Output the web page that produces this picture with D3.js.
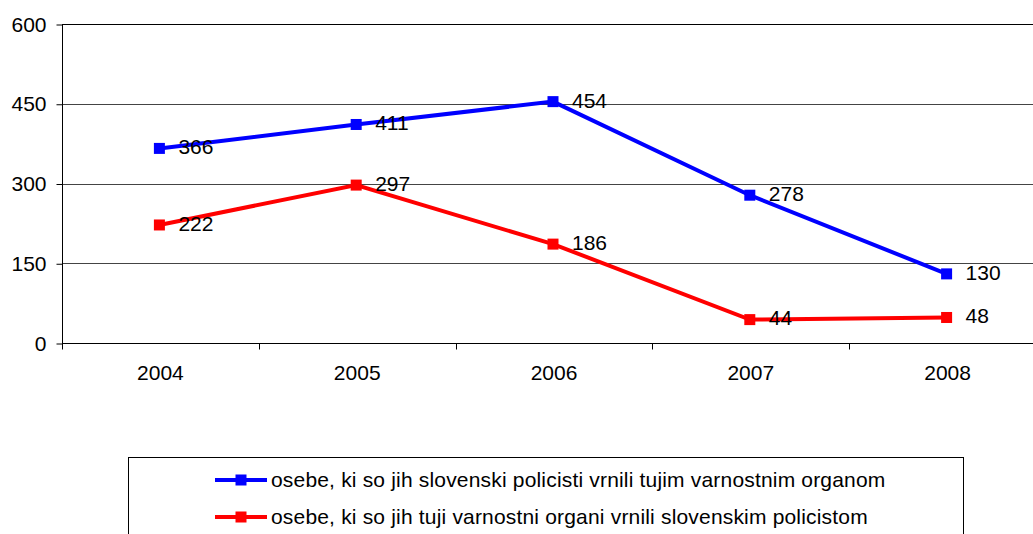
<!DOCTYPE html>
<html>
<head>
<meta charset="utf-8">
<script src="https://cdn.jsdelivr.net/npm/d3@7"></script>
<style>
  body { margin: 0; background: #fff; }
  svg { display: block; font-family: "Liberation Sans", Arial, sans-serif; }
</style>
</head>
<body>
<svg width="1033" height="534"></svg>
<script>
var years = ["2004", "2005", "2006", "2007", "2008"];
var returnedByUs = [366, 411, 454, 278, 130];
var returnedToUs = [222, 297, 186, 44, 48];
var yTicks = [0, 150, 300, 450, 600];
var seriesNames = [
    "osebe, ki so jih slovenski policisti vrnili tujim varnostnim organom",
    "osebe, ki so jih tuji varnostni organi vrnili slovenskim policistom"
];
var seriesColors = ["#0000ff", "#ff0000"];

var svg = d3.select("svg");
var plotLeft = 62, plotRight = 1046, plotTop = 24, plotBottom = 343;
var fontSize = 21;
var markerSize = 11;

var x = d3.scaleBand().domain(years).range([plotLeft, plotRight]);
var y = d3.scaleLinear().domain([0, 600]).range([plotBottom, plotTop]);

// gridlines
svg.append("g").selectAll("line").data(yTicks.filter(function (d) { return d > 0; }))
    .enter().append("line")
    .attr("x1", plotLeft).attr("x2", plotRight)
    .attr("y1", function (d) { return Math.round(y(d)) + 0.5; })
    .attr("y2", function (d) { return Math.round(y(d)) + 0.5; })
    .attr("stroke", function (d) { return d === 600 ? "#000" : "#444"; })
    .attr("stroke-width", 1);

// y axis
var yAxis = svg.append("g")
    .attr("transform", "translate(" + (plotLeft + 0.5) + ",0.5)")
    .call(d3.axisLeft(y).tickValues(yTicks).tickSize(6).tickPadding(10));
yAxis.selectAll("text").attr("font-size", fontSize).attr("fill", "#000")
    .attr("font-family", "Liberation Sans, Arial, sans-serif");
yAxis.selectAll("line, path").attr("stroke", "#000");
yAxis.select(".domain").attr("d", "M0," + y(0) + "V" + y(600));

// x axis
var xAxis = svg.append("g")
    .attr("transform", "translate(0," + (plotBottom + 0.5) + ")")
    .call(d3.axisBottom(x).tickSize(0).tickPadding(22));
xAxis.selectAll("text").attr("font-size", fontSize).attr("fill", "#000")
    .attr("font-family", "Liberation Sans, Arial, sans-serif");
xAxis.select(".domain").attr("d", "M" + plotLeft + ",0H" + plotRight).attr("stroke", "#000");
xAxis.append("g").selectAll("line").data(years)
    .enter().append("line")
    .attr("x1", function (d) { return Math.round(x(d)) + 0.5; })
    .attr("x2", function (d) { return Math.round(x(d)) + 0.5; })
    .attr("y1", 0).attr("y2", 6)
    .attr("stroke", "#000");

// series
var series = [returnedByUs, returnedToUs];
var cx = function (d, i) { return x(years[i]) + x.bandwidth() / 2 - 1; };
var line = d3.line().x(cx).y(function (d) { return y(d); });

series.forEach(function (vals, s) {
    var g = svg.append("g");
    g.append("path").datum(vals)
        .attr("d", line)
        .attr("fill", "none")
        .attr("stroke", seriesColors[s])
        .attr("stroke-width", 4);
    g.selectAll("rect").data(vals).enter().append("rect")
        .attr("x", function (d, i) { return cx(d, i) - markerSize / 2; })
        .attr("y", function (d) { return y(d) - markerSize / 2; })
        .attr("width", markerSize).attr("height", markerSize)
        .attr("fill", seriesColors[s]);
    g.selectAll("text").data(vals).enter().append("text")
        .attr("x", function (d, i) { return cx(d, i) + 19; })
        .attr("y", function (d) { return y(d); })
        .attr("dy", ".28em")
        .attr("font-size", fontSize)
        .text(function (d) { return d; });
});

// legend
var legend = svg.append("g");
legend.append("rect")
    .attr("x", 128.5).attr("y", 457.5)
    .attr("width", 835).attr("height", 100)
    .attr("fill", "#fff").attr("stroke", "#000");
seriesNames.forEach(function (name, s) {
    var ly = 480 + s * 37;
    legend.append("line")
        .attr("x1", 215).attr("x2", 267)
        .attr("y1", ly).attr("y2", ly)
        .attr("stroke", seriesColors[s]).attr("stroke-width", 4);
    legend.append("rect")
        .attr("x", 241 - markerSize / 2).attr("y", ly - markerSize / 2)
        .attr("width", markerSize).attr("height", markerSize)
        .attr("fill", seriesColors[s]);
    legend.append("text")
        .attr("x", 271).attr("y", ly)
        .attr("dy", ".35em")
        .attr("font-size", fontSize)
        .attr("letter-spacing", 0.18)
        .text(name);
});
</script>
</body>
</html>
